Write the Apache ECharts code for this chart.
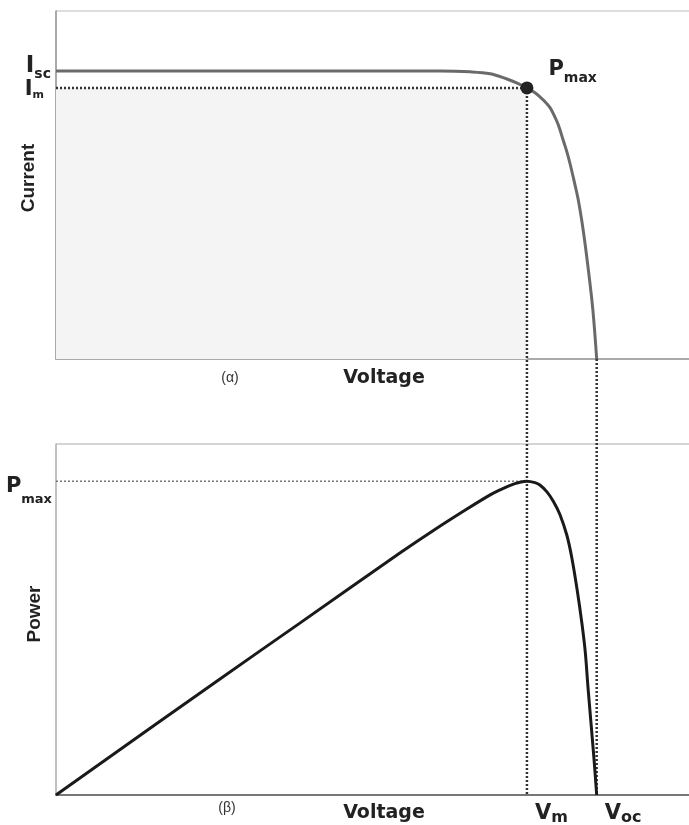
<!DOCTYPE html>
<html>
<head>
<meta charset="utf-8">
<title>I-V and P-V curves</title>
<script src="https://cdn.jsdelivr.net/npm/echarts@6/dist/echarts.min.js"></script>
<style>
  html, body { margin: 0; padding: 0; background: #fff; }
  #chart { width: 689px; height: 825px; }
</style>
</head>
<body>
<div id="chart"></div>
<script>
// key points (voltage normalised to Voc, current to Isc)
const isc = 1.0
const im = 0.941
const vm = 0.871
const voc = 1.0
const pmax = 0.82

// I-V curve (α)
const ivVoltage = [0, 0.452, 0.711, 0.766, 0.803, 0.834, 0.853, 0.871, 0.886, 0.895, 0.905, 0.914, 0.921, 0.929, 0.938, 0.945, 0.951, 0.958, 0.966, 0.975, 0.984, 0.993, 1.0]
const ivCurrent = [1.0, 1.0, 1.0, 0.997, 0.990, 0.972, 0.958, 0.941, 0.924, 0.910, 0.892, 0.872, 0.847, 0.813, 0.760, 0.718, 0.676, 0.620, 0.552, 0.448, 0.319, 0.170, 0]

// P-V curve (β)
const pvVoltage = [0, 0.3, 0.451, 0.636, 0.698, 0.760, 0.803, 0.821, 0.840, 0.858, 0.871, 0.886, 0.895, 0.908, 0.920, 0.932, 0.945, 0.954, 0.964, 0.973, 0.979, 0.984, 0.995, 1.0]
const pvPower = [0, 0.3, 0.449, 0.632, 0.691, 0.747, 0.784, 0.797, 0.809, 0.817, 0.820, 0.816, 0.810, 0.792, 0.767, 0.733, 0.678, 0.620, 0.535, 0.445, 0.372, 0.280, 0.095, 0]

// tick labels: main letter + subscript
const iscTicks = [isc]
const imTicks = [im]
const powerTicks = [pmax]
const voltageTicks = [vm, voc]
const voltageSubs = ['m', 'oc']

const boldFont = 'DejaVu Sans'
const sideFont = 'Liberation Sans'

// rich styles: big letter b, lowered subscript s
function richSet (bSize, sSize, lineH) {
  return {
    b: { fontFamily: boldFont, fontWeight: 'bold', fontSize: bSize, lineHeight: lineH, color: '#222' },
    s: { fontFamily: boldFont, fontWeight: 'bold', fontSize: sSize, lineHeight: sSize, verticalAlign: 'bottom', color: '#222' }
  }
}

function voltageLabel (value) {
  let i = voltageTicks.findIndex(t => Math.abs(t - value) < 1e-6)
  if (i < 0) i = 0
  return '{b|V}{s|' + voltageSubs[i] + '}'
}

const ivData = ivVoltage.map((v, i) => [v, ivCurrent[i]])
const pvData = pvVoltage.map((v, i) => [v, pvPower[i]])

const hiddenBits = {
  axisTick: { show: false },
  splitLine: { show: false }
}

const option = {
  animation: false,
  backgroundColor: '#fff',
  grid: [
    { left: 56, top: 11, width: 638, height: 348, show: true, borderColor: '#bbb', borderWidth: 1, outerBoundsMode: 'none' },
    { left: 56, top: 444, width: 638, height: 351, show: true, borderColor: '#aaa', borderWidth: 1, outerBoundsMode: 'none' }
  ],
  xAxis: [
    Object.assign({
      gridIndex: 0,
      type: 'value',
      min: 0,
      max: 1.18,
      axisLine: { lineStyle: { color: '#999', width: 1.5 } },
      axisLabel: { show: false }
    }, hiddenBits),
    Object.assign({
      gridIndex: 1,
      type: 'value',
      min: 0,
      max: 1.18,
      axisLine: { lineStyle: { color: '#777', width: 2 } },
      axisLabel: {
        customValues: voltageTicks,
        formatter: voltageLabel,
        rich: richSet(21, 16, 25),
        align: 'left',
        margin: 6,
        padding: [0, 0, 0, 8],
        hideOverlap: false
      }
    }, hiddenBits)
  ],
  yAxis: [
    Object.assign({
      gridIndex: 0,
      type: 'value',
      position: 'left',
      min: 0,
      max: 1.208,
      axisLine: { lineStyle: { color: '#999', width: 1.5 } },
      axisLabel: {
        customValues: iscTicks,
        formatter: '{b|I}{s|sc}',
        rich: richSet(23, 14, 29),
        margin: 5,
        padding: [0, 0, 9, 0],
        hideOverlap: false
      }
    }, hiddenBits),
    Object.assign({
      gridIndex: 1,
      type: 'value',
      position: 'left',
      min: 0,
      max: 0.917,
      axisLine: { lineStyle: { color: '#bbb', width: 1.5 } },
      axisLabel: {
        customValues: powerTicks,
        formatter: '{b|P}{s|max}',
        rich: richSet(21, 13, 38),
        margin: 4,
        padding: [11, 0, 0, 0],
        hideOverlap: false
      }
    }, hiddenBits),
    Object.assign({
      gridIndex: 0,
      type: 'value',
      position: 'left',
      offset: 0,
      min: 0,
      max: 1.208,
      axisLine: { show: false },
      axisLabel: {
        customValues: imTicks,
        formatter: '{b|I}{s|m}',
        rich: richSet(21, 11, 22),
        margin: 12,
        padding: [3, 0, 0, 0],
        hideOverlap: false
      }
    }, hiddenBits)
  ],
  series: [
    {
      name: 'Current',
      type: 'line',
      xAxisIndex: 0,
      yAxisIndex: 0,
      data: ivData,
      smooth: 0.35,
      showSymbol: false,
      lineStyle: { color: '#6a6a6a', width: 3 },
      markArea: {
        silent: true,
        itemStyle: { color: '#f4f4f4' },
        data: [[{ coord: [0, 0] }, { coord: [vm, im] }]]
      }
    },
    {
      name: 'Pmax point',
      type: 'scatter',
      xAxisIndex: 0,
      yAxisIndex: 0,
      data: [[vm, im]],
      symbolSize: 13,
      itemStyle: { color: '#222', opacity: 1 },
      z: 5,
      label: {
        show: true,
        position: 'right',
        distance: 15,
        offset: [0, -18],
        formatter: '{b|P}{s|max}',
        rich: richSet(21, 14, 30)
      }
    },
    {
      name: 'Power',
      type: 'line',
      xAxisIndex: 1,
      yAxisIndex: 1,
      data: pvData,
      smooth: 0.35,
      showSymbol: false,
      lineStyle: { color: '#1a1a1a', width: 3 }
    }
  ]
}

const myChart = echarts.init(document.getElementById('chart'))
myChart.setOption(option)

// dotted guide lines, placed through the axes
const pA = myChart.convertToPixel({ gridIndex: 0 }, [0, im])
const pB = myChart.convertToPixel({ gridIndex: 0 }, [vm, im])
const pC = myChart.convertToPixel({ gridIndex: 1 }, [vm, 0])
const pD = myChart.convertToPixel({ gridIndex: 0 }, [voc, 0])
const pE = myChart.convertToPixel({ gridIndex: 1 }, [voc, 0])
const pF = myChart.convertToPixel({ gridIndex: 1 }, [0, pmax])
const pG = myChart.convertToPixel({ gridIndex: 1 }, [vm, pmax])

function dotted (p, q, color, width) {
  return {
    type: 'line',
    shape: { x1: p[0], y1: p[1], x2: q[0], y2: q[1] },
    style: { stroke: color, lineWidth: width, lineDash: [2, 2] },
    z: 1
  }
}

function text (str, x, y, opts) {
  return {
    type: 'text',
    x: x,
    y: y,
    rotation: opts.rotation || 0,
    style: Object.assign({
      text: str,
      fill: '#222',
      align: 'center',
      verticalAlign: 'middle'
    }, opts.style)
  }
}

const bold19 = { fontFamily: boldFont, fontWeight: 'bold', fontSize: 19 }
const side19 = { fontFamily: sideFont, fontWeight: 'bold', fontSize: 19 }

myChart.setOption({
  graphic: [
    dotted(pA, pB, '#333', 2.5),
    dotted(pB, pC, '#333', 2.5),
    dotted(pD, pE, '#333', 2.5),
    dotted(pF, pG, '#777', 1.5),
    text('Current', 29, 178, { rotation: Math.PI / 2, style: side19 }),
    text('Power', 35, 614, { rotation: Math.PI / 2, style: side19 }),
    text('Maximum power\nrectangle', 277, 227, { style: Object.assign({ lineHeight: 20 }, bold19) }),
    text('(α)', 230, 378, { style: { fontFamily: sideFont, fontSize: 14, fill: '#333' } }),
    text('Voltage', 384, 378, { style: bold19 }),
    text('(β)', 227, 808, { style: { fontFamily: sideFont, fontSize: 14, fill: '#333' } }),
    text('Voltage', 384, 813, { style: bold19 })
  ]
})
</script>
</body>
</html>
